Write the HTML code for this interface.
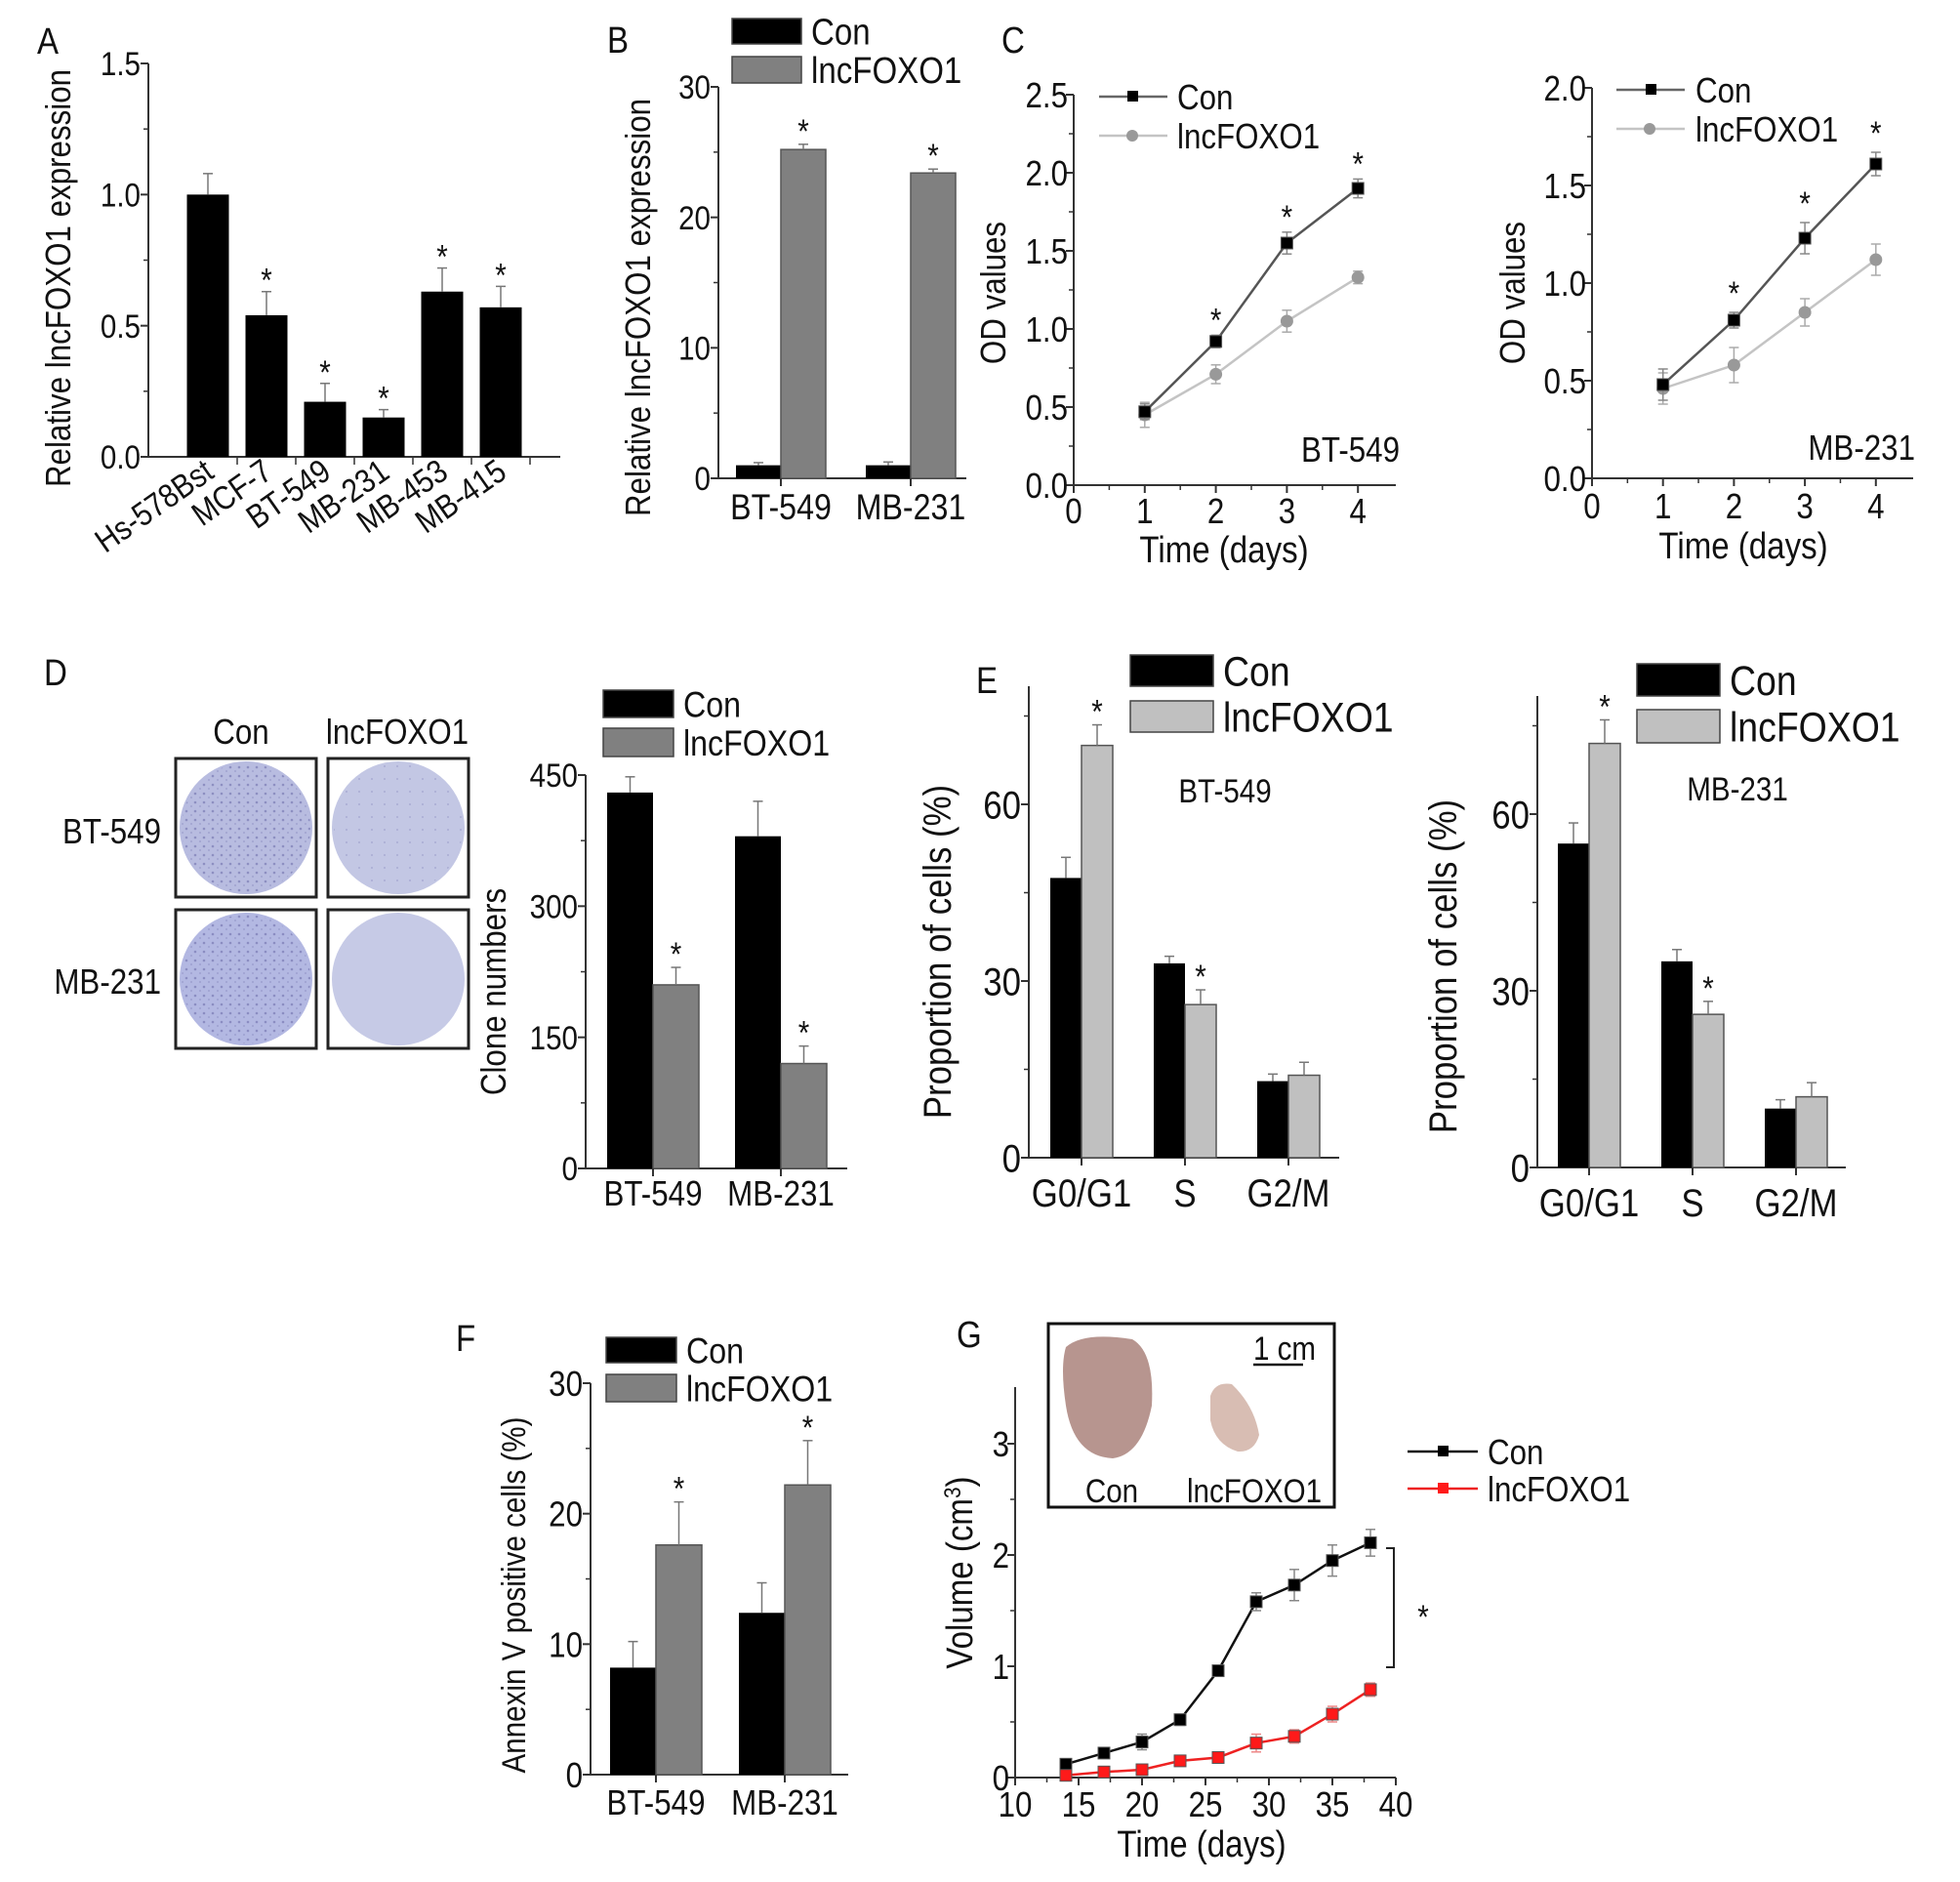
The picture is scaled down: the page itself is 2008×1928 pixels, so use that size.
<!DOCTYPE html>
<html><head><meta charset="utf-8"><style>
html,body{margin:0;padding:0;background:#fff;}
svg{display:block;font-family:"Liberation Sans",Arial,sans-serif;}
</style></head><body>
<svg id="fig" xmlns="http://www.w3.org/2000/svg" width="2008" height="1928" viewBox="0 0 2008 1928">
<defs>
<pattern id="dotsA" width="9" height="9" patternUnits="userSpaceOnUse"><circle cx="2" cy="3" r="1.3" fill="#6a6aa8"/><circle cx="7" cy="7" r="0.9" fill="#8080b8"/></pattern>
<pattern id="dotsB" width="13" height="13" patternUnits="userSpaceOnUse"><circle cx="4" cy="5" r="0.9" fill="#8486bb"/></pattern>
</defs>
<g id="root"></g>
</svg>
<script>
const SVGNS="http://www.w3.org/2000/svg";
const root=document.getElementById('root');
const SX=0.87;

// ---------- DATA ----------
const aCats=["Hs-578Bst","MCF-7","BT-549","MB-231","MB-453","MB-415"];
const aVals=[1.0,0.54,0.21,0.15,0.63,0.57];
const aErrs=[0.08,0.09,0.07,0.03,0.09,0.08];
const aStar=[false,true,true,true,true,true];
const aTicks=["0.0","0.5","1.0","1.5"];

const bCats=["BT-549","MB-231"];
const bCon=[1.0,1.0];
const bLnc=[25.2,23.4];
const bConErr=[0.2,0.25];
const bLncErr=[0.4,0.3];
const bTicks=["0","10","20","30"];

const cDays=[1,2,3,4];
const c1Con=[0.47,0.92,1.55,1.90];
const c1ConErr=[0.05,0.04,0.07,0.06];
const c1Lnc=[0.45,0.71,1.05,1.33];
const c1LncErr=[0.08,0.06,0.07,0.04];
const c1Ticks=["0.0","0.5","1.0","1.5","2.0","2.5"];
const c2Con=[0.48,0.81,1.23,1.61];
const c2ConErr=[0.08,0.04,0.08,0.06];
const c2Lnc=[0.46,0.58,0.85,1.12];
const c2LncErr=[0.08,0.09,0.07,0.08];
const c2Ticks=["0.0","0.5","1.0","1.5","2.0"];
const cXTicks=["0","1","2","3","4"];

const dCats=["BT-549","MB-231"];
const dCon=[430,380];
const dLnc=[210,120];
const dConErr=[18,40];
const dLncErr=[20,20];
const dTicks=["0","150","300","450"];

const eCats=["G0/G1","S","G2/M"];
const e1Con=[47.5,33,13];
const e1ConErr=[3.5,1.2,1.2];
const e1Lnc=[70,26,14];
const e1LncErr=[3.5,2.5,2.2];
const e2Con=[55,35,10];
const e2ConErr=[3.5,2,1.5];
const e2Lnc=[72,26,12];
const e2LncErr=[4,2.2,2.4];
const eTicks=["0","30","60"];

const fCats=["BT-549","MB-231"];
const fCon=[8.2,12.4];
const fConErr=[2.0,2.3];
const fLnc=[17.6,22.2];
const fLncErr=[3.3,3.4];
const fTicks=["0","10","20","30"];

const gDays=[14,17,20,23,26,29,32,35,38];
const gCon=[0.12,0.22,0.32,0.52,0.96,1.58,1.73,1.95,2.11];
const gConErr=[0.03,0.03,0.07,0.05,0.03,0.08,0.14,0.14,0.12];
const gLnc=[0.02,0.05,0.07,0.15,0.18,0.31,0.37,0.57,0.79];
const gLncErr=[0.02,0.02,0.03,0.03,0.03,0.08,0.06,0.07,0.06];
const gYTicks=["0","1","2","3"];
const gXTicks=["10","15","20","25","30","35","40"];

// ---------- HELPERS ----------
function mk(tag,attrs,parent){const e=document.createElementNS(SVGNS,tag);for(const k in attrs)e.setAttribute(k,attrs[k]);(parent||root).appendChild(e);return e;}
function txt(x,y,s,size,anchor,name,rot,parent,fill){
  const el=mk('text',{x:0,y:0,'font-size':size,'text-anchor':anchor||'start',fill:fill||'#111',
    transform:'translate('+x+','+y+')'+(rot?' rotate('+rot+')':'')+' scale('+SX+',1)'},parent);
  el.textContent=s;
  
  
  return el;
}
function line(x1,y1,x2,y2,stroke,w,name,parent){
  const el=mk('line',{x1:x1,y1:y1,x2:x2,y2:y2,stroke:stroke||'#222','stroke-width':w||2},parent);
  
  
  return el;
}
function rect(x,y,w,h,fill,stroke,name,parent){
  const el=mk('rect',{x:x,y:y,width:w,height:h,fill:fill,stroke:stroke||'none','stroke-width':stroke?1.5:0},parent);
  
  
  return el;
}
function yAxis(g,x,yTop,ys,ticks,vals,fs,name,minor){
  line(x,yTop,x,ys(0),'#333',2,name+'-y-axis',g);
  ticks.forEach((t,i)=>{const y=ys(vals[i]);line(x-8,y,x,y,'#333',2,name+'-y-tick',g);
    txt(x-8,y+fs*0.36,t,fs,'end',name+'-y-tick-label',0,g);});
  if(minor){minor.forEach(v=>{const y=ys(v);line(x-5,y,x,y,'#333',1.5,name+'-y-minor-tick',g);});}
}
function errBar(g,x,y0,y1,name,col){
  line(x,y0,x,y1,col||'#777',1.5,name,g);
  line(x-5,y1,x+5,y1,col||'#777',1.5,name+'-cap',g);
}
function star(g,x,y,name,fs){txt(x,y+6,'*',fs||36,'middle',name,0,g);}
function group(name){const g=mk('g',{});return g;}
function legendBox(g,x,y,w,h,fill,label,fs,name){
  rect(x,y,w,h,fill,'#444',name+'-swatch',g);
  txt(x+w+10,y+h/2+fs*0.36,label,fs,'start',name+'-label',0,g);
}

function grouped(g,cfg){
  cfg.cats.forEach((c,i)=>{
    const cx=cfg.cx(i);
    const yc=cfg.ys(cfg.con[i]);const yl=cfg.ys(cfg.lnc[i]);
    rect(cx-cfg.bw,yc,cfg.bw,cfg.ys(0)-yc,'#000',null,cfg.name+'-bar-con-'+i,g);
    rect(cx,yl,cfg.bw,cfg.ys(0)-yl,cfg.lncFill,'#555',cfg.name+'-bar-lnc-'+i,g);
    errBar(g,cx-cfg.bw/2,yc,cfg.ys(cfg.con[i]+cfg.conErr[i]),cfg.name+'-err-con-'+i);
    errBar(g,cx+cfg.bw/2,yl,cfg.ys(cfg.lnc[i]+cfg.lncErr[i]),cfg.name+'-err-lnc-'+i);
    if(cfg.star[i])star(g,cx+cfg.bw/2,cfg.ys(cfg.lnc[i]+cfg.lncErr[i])-8,cfg.name+'-star-'+i,cfg.sfs);
    line(cx,cfg.ys(0),cx,cfg.ys(0)+8,'#333',2,cfg.name+'-x-tick',g);
    txt(cx,cfg.labY,c,cfg.lfs,'middle',cfg.name+'-x-label',0,g);
  });
}

// ---------- PANEL A ----------
(function(){
  const g=group('panel-a');
  const ys=v=>468-(468-65)*v/1.5;
  txt(38,55,'A',38,'start','panel-label-a',0,g);
  yAxis(g,152,65,ys,aTicks,[0,0.5,1.0,1.5],34,'a',[0.25,0.75,1.25]);
  line(152,468,574,468,'#333',2,'a-x-axis',g);
  aCats.forEach((c,i)=>{
    const cx=213+60*i;const y=ys(aVals[i]);
    rect(cx-21.5,y,43,468-y,'#000',null,'a-bar-'+c.toLowerCase(),g);
    errBar(g,cx,y,ys(aVals[i]+aErrs[i]),'a-err-'+i);
    if(aStar[i])star(g,cx,ys(aVals[i]+aErrs[i])-6,'a-star-'+i,34);
    line(cx+30,468,cx+30,476,'#333',1.5,'a-x-tick',g);
    txt(cx+8,488,c,34,'end','a-x-label',-35,g);
  });
  txt(72,285,'Relative lncFOXO1 expression',36,'middle','a-y-title',-90,g);
})();

// ---------- PANEL B ----------
(function(){
  const g=group('panel-b');
  const ys=v=>490-(490-89)*v/30;
  txt(622,54,'B',38,'start','panel-label-b',0,g);
  legendBox(g,750,19,71,26,'#000','Con',38,'b-legend-con');
  legendBox(g,750,58,71,27,'#808080','lncFOXO1',38,'b-legend-lnc');
  yAxis(g,736,89,ys,bTicks,[0,10,20,30],34,'b',[5,15,25]);
  line(736,490,990,490,'#333',2,'b-x-axis',g);
  grouped(g,{cats:bCats,cx:i=>800+133*i,ys:ys,con:bCon,lnc:bLnc,conErr:bConErr,lncErr:bLncErr,bw:46,lncFill:'#808080',star:[true,true],name:'b',labY:532,lfs:37,sfs:34});
  txt(666,315,'Relative lncFOXO1 expression',36,'middle','b-y-title',-90,g);
})();

function lineChart(g,cfg){
  const xs=cfg.xs, ys=cfg.ys;
  line(cfg.x0,cfg.yTop,cfg.x0,ys(0),'#333',2,cfg.name+'-y-axis',g);
  line(cfg.x0,ys(0),cfg.xEnd,ys(0),'#333',2,cfg.name+'-x-axis',g);
  cfg.yTicks.forEach((t,i)=>{const y=ys(cfg.yVals[i]);line(cfg.x0-8,y,cfg.x0,y,'#333',2,cfg.name+'-y-tick',g);
    txt(cfg.x0-6,y+13,t,36,'end',cfg.name+'-y-tick-label',0,g);
    if(i<cfg.yTicks.length-1){const ym=ys((cfg.yVals[i]+cfg.yVals[i+1])/2);line(cfg.x0-5,ym,cfg.x0,ym,'#333',1.5,cfg.name+'-y-minor',g);}});
  cfg.xTicks.forEach((t,i)=>{const x=xs(cfg.xVals[i]);line(x,ys(0),x,ys(0)+8,'#333',2,cfg.name+'-x-tick',g);
    txt(x,cfg.tickY,t,36,'middle',cfg.name+'-x-tick-label',0,g);
    if(i<cfg.xTicks.length-1){const xm=xs((cfg.xVals[i]+cfg.xVals[i+1])/2);line(xm,ys(0),xm,ys(0)+5,'#333',1.5,cfg.name+'-x-minor',g);}});
  cfg.series.forEach(s=>{
    const pts=cfg.xData.map((d,i)=>xs(d)+','+ys(s.vals[i])).join(' ');
    const pl=mk('polyline',{points:pts,fill:'none',stroke:s.line,'stroke-width':2.5},g);
    
    
    cfg.xData.forEach((d,i)=>{
      const x=xs(d),y=ys(s.vals[i]);
      errBar(g,x,ys(s.vals[i]-s.err[i]),ys(s.vals[i]+s.err[i]),s.name+'-err',s.errCol);
      line(x-5,ys(s.vals[i]-s.err[i]),x+5,ys(s.vals[i]-s.err[i]),s.errCol,1.5,s.name+'-err-cap-low',g);
      let m;
      if(s.marker==='sq'){m=mk('rect',{x:x-6,y:y-6,width:12,height:12,fill:s.mcol,stroke:'#555','stroke-width':1},g);}
      else{m=mk('circle',{cx:x,cy:y,r:6.5,fill:s.mcol},g);}
      
      
    });
  });
}

// ---------- PANEL C ----------
(function(){
  const g=group('panel-c');
  txt(1026,54,'C',38,'start','panel-label-c',0,g);
  const ys1=v=>497-(497-97)*v/2.5, xs1=d=>1100+72.8*d;
  lineChart(g,{name:'c1',x0:1100,yTop:97,xEnd:1430,xs:xs1,ys:ys1,yTicks:c1Ticks,yVals:[0,0.5,1,1.5,2,2.5],xTicks:cXTicks,xVals:[0,1,2,3,4],tickY:536,xData:cDays,
    series:[{name:'c1-lnc',vals:c1Lnc,err:c1LncErr,line:'#c4c4c4',errCol:'#aaa',mcol:'#999',marker:'ci'},
            {name:'c1-con',vals:c1Con,err:c1ConErr,line:'#555',errCol:'#888',mcol:'#000',marker:'sq'}]});
  [1,2,3].forEach(i=>star(g,xs1(cDays[i]),ys1(c1Con[i]+c1ConErr[i])-10,'c1-star',34));
  line(1126,99,1196,99,'#666',2.5,'c1-legend-con-line',g);rect(1155,93,11,11,'#000',null,'c1-legend-con-marker',g);
  txt(1206,112,'Con',36,'start','c1-legend-con-label',0,g);
  line(1126,139,1196,139,'#c4c4c4',2.5,'c1-legend-lnc-line',g);mk('circle',{cx:1160,cy:139,r:6,fill:'#999'},g);
  txt(1206,152,'lncFOXO1',36,'start','c1-legend-lnc-label',0,g);
  txt(1434,473,'BT-549',36,'end','c1-cell-label',0,g);
  txt(1254,576,'Time (days)',38,'middle','c1-x-title',0,g);
  txt(1030,300,'OD values',36,'middle','c1-y-title',-90,g);

  const ys2=v=>490-(490-90)*v/2.0, xs2=d=>1631+72.7*d;
  lineChart(g,{name:'c2',x0:1631,yTop:90,xEnd:1960,xs:xs2,ys:ys2,yTicks:c2Ticks,yVals:[0,0.5,1,1.5,2],xTicks:cXTicks,xVals:[0,1,2,3,4],tickY:531,xData:cDays,
    series:[{name:'c2-lnc',vals:c2Lnc,err:c2LncErr,line:'#c4c4c4',errCol:'#aaa',mcol:'#999',marker:'ci'},
            {name:'c2-con',vals:c2Con,err:c2ConErr,line:'#555',errCol:'#888',mcol:'#000',marker:'sq'}]});
  [1,2,3].forEach(i=>star(g,xs2(cDays[i]),ys2(c2Con[i]+c2ConErr[i])-14,'c2-star',34));
  line(1656,92,1726,92,'#666',2.5,'c2-legend-con-line',g);rect(1686,86,11,11,'#000',null,'c2-legend-con-marker',g);
  txt(1737,105,'Con',36,'start','c2-legend-con-label',0,g);
  line(1656,132,1726,132,'#c4c4c4',2.5,'c2-legend-lnc-line',g);mk('circle',{cx:1690,cy:132,r:6,fill:'#999'},g);
  txt(1737,145,'lncFOXO1',36,'start','c2-legend-lnc-label',0,g);
  txt(1962,471,'MB-231',36,'end','c2-cell-label',0,g);
  txt(1786,572,'Time (days)',38,'middle','c2-x-title',0,g);
  txt(1562,300,'OD values',36,'middle','c2-y-title',-90,g);
})();

// ---------- PANEL D ----------
(function(){
  const g=group('panel-d');
  txt(45,702,'D',38,'start','panel-label-d',0,g);
  txt(247,762,'Con',36,'middle','d-plate-col-con',0,g);
  txt(407,762,'lncFOXO1',36,'middle','d-plate-col-lnc',0,g);
  txt(165,864,'BT-549',36,'end','d-plate-row-bt549',0,g);
  txt(165,1018,'MB-231',36,'end','d-plate-row-mb231',0,g);
  const boxes=[[180,777,'#b8bce0','url(#dotsA)','plate-bt549-con'],[336,777,'#c3c7e4','url(#dotsB)','plate-bt549-lnc'],
               [180,932,'#b3b8e2','url(#dotsA)','plate-mb231-con'],[336,932,'#c6cae6',null,'plate-mb231-lnc']];
  boxes.forEach(b=>{
    rect(b[0],b[1],144,142,'#fff','#222',b[4]+'-frame',g).setAttribute('stroke-width',3);
    const c=mk('ellipse',{cx:b[0]+72,cy:b[1]+71,rx:68,ry:68,fill:b[2]},g);
    
    
    if(b[3]){const d=mk('ellipse',{cx:b[0]+72,cy:b[1]+71,rx:66,ry:66,fill:b[3],opacity:0.55},g);
      
      }
  });
  const ys=v=>1197-(1197-794)*v/450;
  legendBox(g,618,707,72,28,'#000','Con',37,'d-legend-con');
  legendBox(g,618,746,72,29,'#808080','lncFOXO1',37,'d-legend-lnc');
  yAxis(g,600,794,ys,dTicks,[0,150,300,450],34,'d',[75,225,375]);
  line(600,1197,868,1197,'#333',2,'d-x-axis',g);
  grouped(g,{cats:dCats,cx:i=>669+131*i,ys:ys,con:dCon,lnc:dLnc,conErr:dConErr,lncErr:dLncErr,bw:47,lncFill:'#808080',star:[true,true],name:'d',labY:1235,lfs:36,sfs:34});
  txt(518,1016,'Clone numbers',36,'middle','d-y-title',-90,g);
})();

// ---------- PANEL E ----------
(function(){
  const g=group('panel-e');
  txt(1000,710,'E',38,'start','panel-label-e',0,g);
  const ys1=v=>1186-181*v/30;
  legendBox(g,1158,671,85,32,'#000','Con',43,'e1-legend-con');
  legendBox(g,1158,718,85,32,'#c0c0c0','lncFOXO1',43,'e1-legend-lnc');
  yAxis(g,1054,703,ys1,eTicks,[0,30,60],40,'e1',[15,45,75]);
  line(1054,1186,1372,1186,'#333',2,'e1-x-axis',g);
  grouped(g,{cats:eCats,cx:i=>1108+106*i,ys:ys1,con:e1Con,lnc:e1Lnc,conErr:e1ConErr,lncErr:e1LncErr,bw:32,lncFill:'#c0c0c0',star:[true,true,false],name:'e1',labY:1236,lfs:40,sfs:34});
  txt(1255,822,'BT-549',34,'middle','e1-cell-label',0,g);
  txt(974,975,'Proportion of cells (%)',40,'middle','e1-y-title',-90,g);

  const ys2=v=>1196-181*v/30;
  legendBox(g,1677,680,85,33,'#000','Con',43,'e2-legend-con');
  legendBox(g,1677,727,85,34,'#c0c0c0','lncFOXO1',43,'e2-legend-lnc');
  yAxis(g,1575,713,ys2,eTicks,[0,30,60],40,'e2',[15,45,75]);
  line(1575,1196,1891,1196,'#333',2,'e2-x-axis',g);
  grouped(g,{cats:eCats,cx:i=>1628+106*i,ys:ys2,con:e2Con,lnc:e2Lnc,conErr:e2ConErr,lncErr:e2LncErr,bw:32,lncFill:'#c0c0c0',star:[true,true,false],name:'e2',labY:1246,lfs:40,sfs:34});
  txt(1780,820,'MB-231',34,'middle','e2-cell-label',0,g);
  txt(1492,990,'Proportion of cells (%)',40,'middle','e2-y-title',-90,g);
})();

// ---------- PANEL F ----------
(function(){
  const g=group('panel-f');
  txt(467,1384,'F',38,'start','panel-label-f',0,g);
  const ys=v=>1818-(1818-1417)*v/30;
  legendBox(g,621,1370,72,26,'#000','Con',37,'f-legend-con');
  legendBox(g,621,1408,72,28,'#808080','lncFOXO1',37,'f-legend-lnc');
  yAxis(g,605,1417,ys,fTicks,[0,10,20,30],36,'f',[5,15,25]);
  line(605,1818,869,1818,'#333',2,'f-x-axis',g);
  grouped(g,{cats:fCats,cx:i=>672+132*i,ys:ys,con:fCon,lnc:fLnc,conErr:fConErr,lncErr:fLncErr,bw:47,lncFill:'#808080',star:[true,true],name:'f',labY:1859,lfs:36,sfs:34});
  txt(538,1634,'Annexin V positive cells (%)',34,'middle','f-y-title',-90,g);
})();

// ---------- PANEL G ----------
(function(){
  const g=group('panel-g');
  txt(980,1380,'G',38,'start','panel-label-g',0,g);
  const ys=v=>1821-114*v, xs=d=>1040+13*(d-10);
  lineChart(g,{name:'g',x0:1040,yTop:1421,xEnd:1430,xs:xs,ys:ys,yTicks:gYTicks,yVals:[0,1,2,3],xTicks:gXTicks,xVals:[10,15,20,25,30,35,40],tickY:1861,xData:gDays,
    series:[{name:'g-con',vals:gCon,err:gConErr,line:'#111',errCol:'#888',mcol:'#000',marker:'sq'},
            {name:'g-lnc',vals:gLnc,err:gLncErr,line:'#ee2222',errCol:'#e88',mcol:'#ff1a1a',marker:'sq'}]});
  const br=mk('polyline',{points:'1420,1586 1428,1586 1428,1708 1420,1708',fill:'none',stroke:'#222','stroke-width':2},g);
  
  
  star(g,1458,1662,'g-star',34);
  line(1442,1487,1514,1487,'#111',2.5,'g-legend-con-line',g);rect(1473,1481,11,11,'#000',null,'g-legend-con-marker',g);
  txt(1524,1500,'Con',36,'start','g-legend-con-label',0,g);
  line(1442,1525,1514,1525,'#ee2222',2.5,'g-legend-lnc-line',g);rect(1473,1519,11,11,'#ff1a1a',null,'g-legend-lnc-marker',g);
  txt(1524,1538,'lncFOXO1',36,'start','g-legend-lnc-label',0,g);
  const ins=rect(1074,1356,293,188,'#fff','#111','g-inset-frame',g);ins.setAttribute('stroke-width',3);
  const t1=mk('path',{d:'M1092,1380 Q1110,1364 1160,1372 Q1183,1385 1180,1440 Q1170,1490 1140,1494 Q1100,1492 1092,1440 Q1086,1400 1092,1380 Z',fill:'#b7958f'},g);
  
  
  const t2=mk('path',{d:'M1240,1430 Q1245,1415 1262,1418 Q1285,1440 1290,1470 Q1285,1488 1268,1487 Q1245,1480 1240,1455 Z',fill:'#d8bdb3'},g);
  
  
  txt(1316,1393,'1 cm',34,'middle','g-scale-label',0,g);
  line(1284,1398,1335,1398,'#111',2.5,'g-scale-bar',g);
  txt(1139,1539,'Con',34,'middle','g-inset-con-label',0,g);
  txt(1285,1539,'lncFOXO1',34,'middle','g-inset-lnc-label',0,g);
  txt(1231,1902,'Time (days)',38,'middle','g-x-title',0,g);
  const yt=txt(996,1611,'Volume (cm',38,'middle','g-y-title',-90,g);
  const sup=document.createElementNS(SVGNS,'tspan');sup.setAttribute('dy','-12');sup.setAttribute('font-size','24');sup.textContent='3';yt.appendChild(sup);
  const cl=document.createElementNS(SVGNS,'tspan');cl.setAttribute('dy','12');cl.textContent=')';yt.appendChild(cl);
})();
</script>
</body></html>
